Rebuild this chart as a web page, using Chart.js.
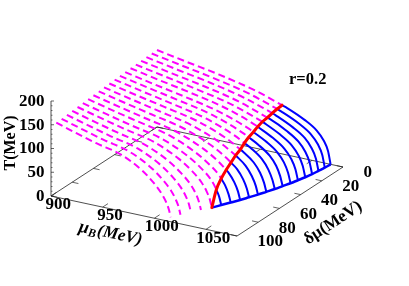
<!DOCTYPE html>
<html>
<head>
<meta charset="utf-8">
<title>r=0.2</title>
<script src="https://cdn.jsdelivr.net/npm/chart.js@4"></script>
<style>
  html, body { margin: 0; padding: 0; background: #fff; }
  canvas { display: block; }
</style>
</head>
<body>
<canvas id="chart" width="409" height="286"></canvas>
<script>
// one curve per delta mu
const dmuCurves = [0, 5, 10, 15, 20, 25, 30, 35, 40, 45, 50, 55, 60, 65, 70, 75, 80, 85, 90, 95];

const muCurves = [
  [900, 930.2, 958.8, 995.8, 1026, 1042.8, 1054.6, 1061.3, 1065.5, 1068],
  [900, 930.2, 958.6, 995.5, 1025.6, 1042.4, 1054.1, 1060.8, 1065, 1067.5],
  [900, 930, 958.3, 994.9, 1024.9, 1041.5, 1053.2, 1059.8, 1064, 1066.5],
  [900, 929.8, 957.9, 994.3, 1024.1, 1040.7, 1052.3, 1058.9, 1063, 1065.5],
  [900, 929.5, 957.4, 993.5, 1023, 1039.4, 1050.9, 1057.4, 1061.5, 1064],
  [900, 929.2, 956.7, 992.3, 1021.5, 1037.7, 1049, 1055.5, 1059.6, 1062],
  [900, 928.8, 956, 991.2, 1020, 1036, 1047.2, 1053.6, 1057.6, 1060],
  [900, 928.4, 955.1, 989.8, 1018.1, 1033.9, 1044.9, 1051.2, 1055.1, 1057.5],
  [900, 927.9, 954.3, 988.4, 1016.3, 1031.8, 1042.6, 1048.8, 1052.7, 1055],
  [900, 927.4, 953.2, 986.6, 1014, 1029.2, 1039.8, 1045.9, 1049.7, 1052],
  [900, 926.8, 952.2, 984.9, 1011.8, 1026.7, 1037.1, 1043, 1046.8, 1049],
  [900, 926.2, 950.9, 982.9, 1009.1, 1023.7, 1033.9, 1039.7, 1043.3, 1045.5],
  [900, 925.6, 949.7, 980.9, 1006.5, 1020.7, 1030.6, 1036.3, 1039.9, 1042],
  [900, 924.8, 948.3, 978.7, 1003.5, 1017.3, 1027, 1032.5, 1035.9, 1038],
  [900, 924.1, 946.9, 976.4, 1000.5, 1013.9, 1023.3, 1028.6, 1032, 1034],
  [900, 923.4, 945.5, 974.1, 997.5, 1010.5, 1019.6, 1024.8, 1028.1, 1030],
  [900, 922.4, 943.6, 971, 993.5, 1005.9, 1014.6, 1019.6, 1022.7, 1024.6],
  [900, 921.6, 942, 968.4, 990, 1002, 1010.4, 1015.2, 1018.2, 1020],
  [900, 920.7, 940.3, 965.6, 986.3, 997.8, 1005.8, 1010.4, 1013.3, 1015],
  [900, 919.9, 938.7, 963.1, 983, 994.1, 1001.8, 1006.3, 1009, 1010.7]
];

const tempCurves = [
  [162, 150, 139, 120.7, 98.8, 81.8, 64.8, 47, 27, 0],
  [162, 149.9, 138.8, 120.7, 98.5, 81.3, 64, 46, 26, 0],
  [161.5, 149.2, 138.1, 120.2, 98, 80.4, 63.1, 45, 25, 0],
  [161, 148.6, 137.5, 119.8, 97.4, 79.7, 62.1, 44, 24, 0],
  [160.5, 148.1, 136.7, 119.4, 96.9, 78.8, 61.2, 43, 23, 0],
  [160, 147.5, 136.2, 119, 96.3, 78.1, 60.2, 42, 22, 0],
  [159, 146.4, 135, 118.1, 95.6, 77, 59.1, 41, 21, 0],
  [158.5, 145.8, 134.4, 117.8, 94.9, 76.2, 58.2, 40, 20, 0],
  [158, 145.2, 133.7, 117.4, 94.3, 75.5, 57.2, 38.1, 18.5, 0],
  [157, 144.1, 132.7, 116.7, 93.6, 74.4, 56, 37.2, 18.2, 0],
  [156, 143.2, 131.5, 115.8, 92.7, 73.5, 55.1, 36.3, 17.8, 0],
  [155, 142.1, 130.5, 115, 91.9, 72.4, 53.9, 35.5, 17.5, 0],
  [154, 141.1, 129.4, 114.3, 91, 71.5, 52.8, 34.8, 17.1, 0],
  [153, 140, 128.4, 113.5, 90.1, 70.5, 51.7, 34, 16.7, 0],
  [152, 138.9, 127.2, 112.6, 89.4, 69.5, 50.8, 33.1, 16.4, 0],
  [151, 137.9, 126.2, 111.9, 88.5, 68.6, 49.7, 32.5, 16, 0],
  [150, 137, 125.1, 111.2, 87.8, 67.5, 48.6, 31.7, 15.8, 0],
  [149, 135.9, 124.1, 110.4, 86.9, 66.6, 47.5, 30.8, 15.3, 0],
  [148, 134.8, 123, 109.5, 86.1, 65.6, 46.6, 30.2, 15.1, 0],
  [147, 133.8, 122, 108.8, 85.3, 64.7, 45.6, 29.4, 14.7, 0]
];

// red line, where each curve turns from dashed to solid
const critDmu = [0, 5, 10, 15, 20, 25, 30, 35, 40, 45, 50, 55, 60, 65, 70, 75];
const critMu = [1021, 1021.4, 1021.8, 1022.2, 1022.5, 1023.1, 1024, 1024.6, 1025.6, 1026.9, 1027.4, 1028, 1028.5, 1028.8, 1029.2, 1030];
const critT = [102.5, 102, 100.8, 98.7, 97.4, 94.4, 91, 87.6, 83, 77.4, 72.5, 64.8, 57, 46, 30, 0];

// axes
const muRange = [900, 1080];
const dmuRange = [0, 100];
const tRange = [0, 200];
const muTicks = [900, 950, 1000, 1050];
const dmuTicks = [0, 20, 40, 60, 80, 100];
const tTicks = [0, 50, 100, 150, 200];
const tMinorTicks = [10, 20, 30, 40, 60, 70, 80, 90, 110, 120, 130, 140, 160, 170, 180, 190];

// 3d view: axes map onto the flat scales below
function project(mu, dmu, t) {
  const a = mu - muRange[0];
  const b = dmuRange[1] - dmu;
  return {
    x: 51 + a * 186 / 180 + b * 1.06,
    y: 196 + a * 40 / 180 - b * 0.69 - t * 0.475
  };
}

const MAGENTA = '#ff00ff';
const BLUE = '#0000ff';
const RED = '#ff0000';
const AXIS = '#222';

let datasets = [];

function addLine(points, color, width, extra) {
  datasets.push(Object.assign({
    data: points,
    showLine: true,
    pointRadius: 0,
    borderColor: color,
    borderWidth: width,
    fill: false,
    clip: false
  }, extra || {}));
}

const SMOOTH = { cubicInterpolationMode: 'monotone' };

// red on top
addLine(critDmu.map((d, i) => project(critMu[i], d, critT[i])), RED, 3, Object.assign({ borderCapStyle: 'round' }, SMOOTH));
addLine(critDmu.map((d, i) => {
  const k = dmuCurves.indexOf(d);
  return project(muCurves[k][muCurves[k].length - 1], d, 0);
}), BLUE, 2.5, SMOOTH);

dmuCurves.forEach((d, k) => {
  const mus = muCurves[k];
  const temps = tempCurves[k];
  const c = critDmu.indexOf(d);
  let upper = [];
  let lower = [];
  mus.forEach((mu, i) => {
    if (c < 0 || temps[i] > critT[c]) upper.push(project(mu, d, temps[i]));
    else if (temps[i] < critT[c]) lower.push(project(mu, d, temps[i]));
  });
  if (c >= 0) {
    const p = project(critMu[c], d, critT[c]);
    upper.push(p);
    lower.unshift(p);
    if (lower.length > 1) addLine(lower, BLUE, 2, SMOOTH);
  }
  addLine(upper, MAGENTA, 2, Object.assign({ borderDash: [7, 4] }, SMOOTH));
});

// floor box and T axis
const [mu0, mu1] = muRange;
const [d0, d1] = dmuRange;
addLine([project(mu0, d1, 0), project(mu1, d1, 0), project(mu1, d0, 0), project(mu0, d0, 0), project(mu0, d1, 0)], AXIS, 0.8);
addLine([project(mu0, d1, tRange[0]), project(mu0, d1, tRange[1])], AXIS, 0.8);

muTicks.forEach(m => {
  addLine([project(m, d1, 0), project(m, d1 - 5, 0)], AXIS, 0.7);
  addLine([project(m, d0, 0), project(m, d0 + 5, 0)], AXIS, 0.7);
});
dmuTicks.forEach(d => {
  addLine([project(mu0, d, 0), project(mu0 + 6, d, 0)], AXIS, 0.7);
  addLine([project(mu1, d, 0), project(mu1 - 6, d, 0)], AXIS, 0.7);
});
tTicks.forEach(t => {
  const p = project(mu0, d1, t);
  addLine([p, { x: p.x + 3, y: p.y }], AXIS, 0.7);
});
tMinorTicks.forEach(t => {
  const p = project(mu0, d1, t);
  addLine([p, { x: p.x + 1.5, y: p.y }], AXIS, 0.6);
});

const SERIF = '"Liberation Serif", "Times New Roman", serif';

function drawRotated(ctx, text, x, y, angle, font) {
  ctx.save();
  ctx.translate(x, y);
  ctx.rotate(angle);
  ctx.font = font;
  ctx.textAlign = 'center';
  ctx.fillText(text, 0, 0);
  ctx.restore();
}

// tick labels and titles, placed from the same projection
const labelPlugin = {
  id: 'labels3d',
  afterDraw(chart) {
    const ctx = chart.ctx;
    const sx = chart.scales.x;
    const sy = chart.scales.y;
    ctx.save();
    ctx.fillStyle = '#000';
    ctx.textBaseline = 'middle';
    ctx.font = 'bold 17px ' + SERIF;

    ctx.textAlign = 'right';
    tTicks.forEach(t => {
      const p = project(mu0, d1, t);
      ctx.fillText(String(t), sx.getPixelForValue(p.x) - 6.5, sy.getPixelForValue(p.y) + 0.5);
    });
    ctx.textAlign = 'center';
    muTicks.forEach(m => {
      const p = project(m, d1, 0);
      ctx.fillText(String(m), sx.getPixelForValue(p.x) + 7.3, sy.getPixelForValue(p.y) + 8.8);
    });
    ctx.textAlign = 'left';
    dmuTicks.forEach(d => {
      const p = project(mu1, d, 0);
      ctx.fillText(String(d), sx.getPixelForValue(p.x) + 20.5, sy.getPixelForValue(p.y) + 6);
    });

    drawRotated(ctx, 'T(MeV)', 11, 143, -Math.PI / 2, 'bold 16px ' + SERIF);
    drawRotated(ctx, 'δμ(MeV)', 333, 223, -0.58, 'bold 17px ' + SERIF);
    ctx.textAlign = 'center';
    ctx.font = 'bold 16.5px ' + SERIF;
    ctx.fillText('r=0.2', 307.7, 80);

    // mu_B label: pieces along the rotated baseline
    ctx.save();
    ctx.translate(112, 235);
    ctx.rotate(0.21);
    ctx.textAlign = 'left';
    ctx.font = 'italic bold 18px ' + SERIF;
    ctx.fillText('μ', -34, -1);
    ctx.font = 'italic bold 12px ' + SERIF;
    ctx.fillText('B', -24, 3);
    ctx.font = 'italic bold 17px ' + SERIF;
    ctx.fillText('(MeV)', -15, -1);
    ctx.restore();
    ctx.restore();
  }
};

new Chart(document.getElementById('chart').getContext('2d'), {
  type: 'scatter',
  data: { datasets: datasets },
  options: {
    responsive: false,
    animation: false,
    events: [],
    layout: { padding: 0 },
    plugins: { legend: { display: false }, tooltip: { enabled: false } },
    scales: {
      x: { type: 'linear', display: false, min: 0, max: 409 },
      y: { type: 'linear', display: false, min: 0, max: 286, reverse: true }
    }
  },
  plugins: [labelPlugin]
});
</script>
</body>
</html>
